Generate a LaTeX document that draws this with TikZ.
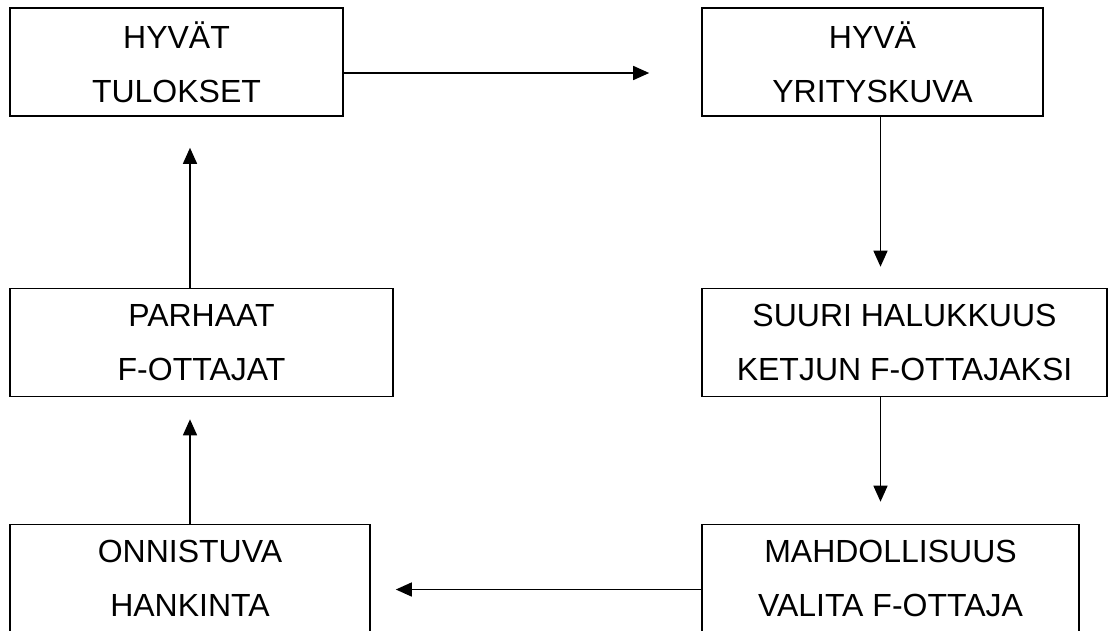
\documentclass[tikz,border=0pt]{standalone}
\usepackage{fontspec}
\setmainfont{Liberation Sans}
\usetikzlibrary{arrows.meta,positioning}

\begin{document}
\begin{tikzpicture}[
  x=1pt, y=-1pt,
  box/.style={draw, line width=1.6pt, align=center, inner sep=0pt,
    minimum height=108pt, font=\fontsize{32}{54}\selectfont},
  arr/.style={-{Triangle[length=16pt, width=14pt]}, line width=1.5pt}
]
  \clip (0,0) rectangle (1109,630);
  \node[box, minimum width=333pt] (tulos) at (176.5,62) {HYVÄT\\TULOKSET};
  \node[box, minimum width=341pt] (kuva) at (872.5,62) {HYVÄ\\YRITYSKUVA};
  \node[box, minimum width=383pt] (parhaat) at (201.5,342.5) {PARHAAT\\F-OTTAJAT};
  \node[box, minimum width=405pt] (halu) at (904.5,342.5) {SUURI HALUKKUUS\\KETJUN F-OTTAJAKSI};
  \node[box, minimum width=360pt] (hankinta) at (190,578.5) {ONNISTUVA\\HANKINTA};
  \node[box, minimum width=377pt] (mahd) at (890.5,578.5) {MAHDOLLISUUS\\VALITA F-OTTAJA};

  \draw[arr] ([yshift=-11pt]tulos.east) -- ([xshift=-52pt, yshift=-11pt]kuva.west);
  \draw[arr] ([xshift=8pt]kuva.south) -- ([xshift=8pt, yshift=21pt]kuva.south |- halu.north);
  \draw[arr] ([xshift=-24pt]halu.south) -- ([xshift=-24pt, yshift=22pt]halu.south |- mahd.north);
  \draw[arr] ([yshift=-11pt]mahd.west) -- ([xshift=25pt, yshift=-11pt]hankinta.east);
  \draw[arr] (hankinta.north) -- ([yshift=-22pt]hankinta.north |- parhaat.south);
  \draw[arr] ([xshift=-11.5pt]parhaat.north) -- ([xshift=-11.5pt, yshift=-31pt]parhaat.north |- tulos.south);
\end{tikzpicture}
\end{document}
